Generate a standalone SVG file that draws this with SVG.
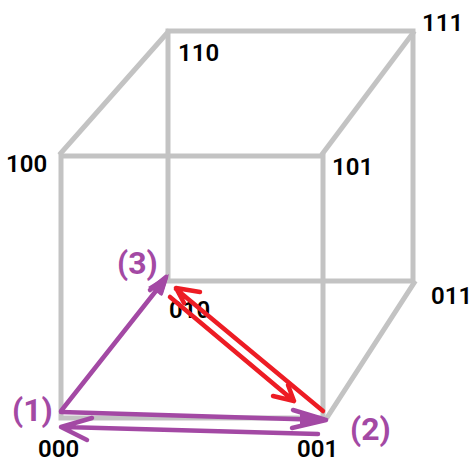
<svg xmlns="http://www.w3.org/2000/svg" width="475" height="459" viewBox="0 0 475 459">
<style>
.edge{stroke:#c3c3c3;stroke-width:5;fill:none;stroke-linecap:square}
.p{stroke:#a349a4;stroke-width:4.5;fill:none;stroke-linecap:round;stroke-linejoin:round}
.pf{fill:#a349a4;stroke:none}
.r{stroke:#ed1c24;stroke-width:4.5;fill:none;stroke-linecap:round;stroke-linejoin:round}
.l{font-family:Roboto,"Liberation Sans",sans-serif;font-size:24px;font-weight:600;fill:#000}
.s{font-family:Roboto,"Liberation Sans",sans-serif;font-size:32px;font-weight:700;fill:#a349a4}
</style>
<rect width="475" height="459" fill="#fff"/>
<g id="cube">
<path class="edge" d="M61 156H323V418H61Z"/>
<path class="edge" d="M168 31H413V281H168Z"/>
<path class="edge" d="M61 153L168 32M323 153L413 33M328 416L414 283"/>
</g>
<g id="labels">
<text class="l" x="6" y="172">100</text>
<text class="l" x="178" y="61">110</text>
<text class="l" x="332" y="175">101</text>
<text class="l" x="422" y="31">111</text>
<text class="l" x="169" y="318">010</text>
<text class="l" x="431" y="304">011</text>
<text class="l" x="38" y="457">000</text>
<text class="l" x="297" y="457">001</text>
</g>
<g id="connectors">
<g id="red-arrows">
<path class="r" d="M323 411L176 289M176 288L200 292M176 288L184 303"/>
<path class="r" d="M170 297L294 401M273 396L294 401L288 385"/>
</g>
<g id="purple-arrows">
<path class="p" d="M61 411L163 282M150 290L166 277L161 293"/>
<path class="pf" d="M169 274L148 287L162 296Z"/>
<path class="p" d="M61 412L326 420M293 410L326 420L292 428"/>
<path class="pf" d="M329 419L300 411L300 427Z"/>
<path class="p" d="M318 434L64 427M92 418L61 427L87 440"/>
</g>
</g>
<g id="steps">
<text class="s" x="117" y="274">(3)</text>
<text class="s" x="12" y="421">(1)</text>
<text class="s" x="350" y="440">(2)</text>
</g>
</svg>
